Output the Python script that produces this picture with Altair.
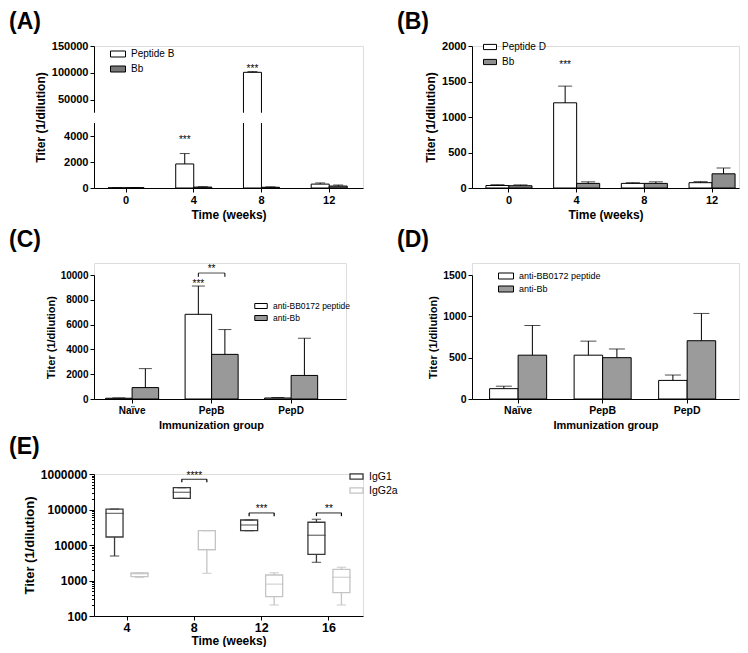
import altair as alt
import pandas as pd

FONT = "Liberation Sans"
RECT = "M-1,-0.4H1V0.4H-1Z"

# ---------------- Panel A ----------------
weeks_A = ["0", "4", "8", "12"]
series_A = ["Peptide B", "Bb"]
A_pep_mean = [15, 1850, 101000, 300]
A_pep_sd = [8, 800, 1400, 90]
A_bb_mean = [25, 70, 55, 150]
A_bb_sd = [12, 30, 35, 80]
A_star_week = ["4", "8"]
A_star_series = ["Peptide B", "Peptide B"]
A_star_y = [3900, 113000]
A_star_text = ["***", "***"]
A_break = [5000, 25800]
A_ticks = [0, 2000, 4000, 50000, 100000, 150000]

# ---------------- Panel B ----------------
weeks_B = ["0", "4", "8", "12"]
series_B = ["Peptide D", "Bb"]
B_pep_mean = [35, 1200, 65, 75]
B_pep_sd = [12, 235, 10, 15]
B_bb_mean = [32, 65, 65, 200]
B_bb_sd = [12, 22, 22, 80]
B_star_week = ["4"]
B_star_series = ["Peptide D"]
B_star_y = [1780]
B_star_text = ["***"]
B_ticks = [0, 500, 1000, 1500, 2000]

# ---------------- Panel C ----------------
groups_CD = ["Naïve", "PepB", "PepD"]
series_CD = ["anti-BB0172 peptide", "anti-Bb"]
C_pep_mean = [60, 6830, 80]
C_pep_sd = [30, 2280, 40]
C_bb_mean = [920, 3600, 1900]
C_bb_sd = [1530, 2000, 3000]
C_star_group = ["PepB"]
C_star_series = ["anti-BB0172 peptide"]
C_star_y = [9500]
C_star_text = ["***"]
C_br_group = ["PepB"]
C_br_y = [10160]
C_br_end = [9850]
C_br_text = ["**"]
C_br_text_y = [10750]
C_ticks = [0, 2000, 4000, 6000, 8000, 10000]

# ---------------- Panel D ----------------
D_pep_mean = [125, 530, 225]
D_pep_sd = [30, 170, 65]
D_bb_mean = [530, 500, 705]
D_bb_sd = [360, 105, 330]
D_ticks = [0, 500, 1000, 1500]

# ---------------- Panel E ----------------
weeks_E = ["4", "8", "12", "16"]
isotypes_E = ["IgG1", "IgG2a"]
E_igg1_min = [4900, 206000, 25300, 3240]
E_igg1_q1 = [16800, 206000, 25300, 5470]
E_igg1_med = [78000, 305000, 36600, 18800]
E_igg1_q3 = [103000, 411000, 50600, 43700]
E_igg1_max = [103000, 411000, 50600, 53000]
E_igg2a_min = [1220, 1590, 204, 204]
E_igg2a_q1 = [1280, 7380, 350, 453]
E_igg2a_med = [1550, 7380, 790, 1230]
E_igg2a_q3 = [1626, 25300, 1430, 2070]
E_igg2a_max = [1626, 25300, 1650, 2360]
E_sig_week = ["8", "12", "16"]
E_sig_y = [709000, 80000, 80000]
E_sig_end = [583000, 65000, 65000]
E_sig_text = ["****", "***", "**"]
E_sig_text_y = [1100000, 125000, 125000]
E_decades = [100, 1000, 10000, 100000, 1000000]


def axis_style(**kw):
    base = dict(labelFont=FONT, titleFont=FONT, labelFontWeight="bold",
                titleFontWeight="bold", labelColor="black", titleColor="black",
                tickColor="black", domainColor="black", domainWidth=1, tickWidth=1,
                tickSize=4, grid=False, labelPadding=2, titlePadding=4)
    base.update(kw)
    return alt.Axis(**base)


def panel_title(t, dx, offset):
    return alt.TitleParams(t, anchor="start", frame="group", dx=dx, offset=offset,
                           fontSize=23, fontWeight="bold", font=FONT, color="black",
                           baseline="bottom")


def star_mark():
    return dict(fontSize=10, dy=3, color="black", font=FONT, opacity=0.99)


def bar_layers(cats, series, pm, ps, bm, bs, fills, xscale, xaxis, yscale, yaxis, legend, cap):
    rows = []
    for i, c in enumerate(cats):
        rows.append(dict(cat=c, series=series[0], mean=pm[i], top=pm[i] + ps[i]))
        rows.append(dict(cat=c, series=series[1], mean=bm[i], top=bm[i] + bs[i]))
    df = pd.DataFrame(rows)
    X = alt.X("cat:N", scale=xscale, axis=xaxis)
    XO = alt.XOffset("series:N", scale=alt.Scale(domain=series, paddingInner=0, paddingOuter=0))
    bars = alt.Chart(df).mark_bar(stroke="black", strokeWidth=1).encode(
        x=X, xOffset=XO, y=alt.Y("mean:Q", scale=yscale, axis=yaxis),
        fill=alt.Fill("series:N", scale=alt.Scale(domain=series, range=fills), legend=legend))
    err = alt.Chart(df).mark_rule(color="black", strokeWidth=1).encode(
        x=X, xOffset=XO, y=alt.Y("mean:Q", scale=yscale, axis=yaxis), y2="top:Q")
    caps = alt.Chart(df).mark_tick(color="black", orient="horizontal", size=cap, thickness=1).encode(
        x=X, xOffset=XO, y=alt.Y("top:Q", scale=yscale, axis=yaxis))
    return [bars, err, caps], X, XO


def star_layer(cats, sers, ys, texts, X, XO, yscale, yaxis):
    df = pd.DataFrame({"cat": cats, "series": sers, "y": ys, "text": texts})
    return alt.Chart(df).mark_text(**star_mark()).encode(
        x=X, xOffset=XO, y=alt.Y("y:Q", scale=yscale, axis=yaxis), text="text:N")


def legend_def(x, y, size, fs, rowpad):
    return alt.Legend(title=None, orient="none", legendX=x, legendY=y, symbolType=RECT,
                      symbolSize=size, symbolStrokeColor="black", symbolStrokeWidth=1,
                      labelFont=FONT, labelFontSize=fs, labelColor="black",
                      rowPadding=rowpad, labelOffset=5)


# ---------- A ----------
WA, HA = 269, 142
xsA = alt.Scale(domain=weeks_A, paddingInner=0.468, paddingOuter=0.22, align=0.47)
xaA = axis_style(title="Time (weeks)", labelAngle=0, labelFontSize=11, titleFontSize=12)
ysA = alt.Scale(domain=[0, A_break[0], A_break[1], 150000], range=[HA, 77, 66.7, 0],
                nice=False, zero=False)
yaA = axis_style(values=A_ticks, format="d", title="Titer (1/dilution)", labelFontSize=11,
                 titleFontSize=12)
layA, XA, XOA = bar_layers(weeks_A, series_A, A_pep_mean, A_pep_sd, A_bb_mean, A_bb_sd,
                           ["white", "#777777"], xsA, xaA, ysA, yaA,
                           legend_def(16, 0, 225, 10, 2), 10)
maskA = alt.Chart(pd.DataFrame({"lo": [A_break[0]], "hi": [A_break[1]]})).mark_rect(
    color="white").encode(y=alt.Y("lo:Q", scale=ysA, axis=yaA), y2="hi:Q",
                          x=alt.value(-4), x2=alt.value(WA))
starA = star_layer(A_star_week, A_star_series, A_star_y, A_star_text, XA, XOA, ysA, yaA)
chartA = alt.layer(*layA, maskA, starA).properties(
    width=WA, height=HA, title=panel_title("(A)", -85, -17))

# ---------- B ----------
WB, HB = 267, 142
xsB = alt.Scale(domain=weeks_B, paddingInner=0.32, paddingOuter=0.132, align=0.78)
xaB = axis_style(title="Time (weeks)", labelAngle=0, labelFontSize=11, titleFontSize=12)
ysB = alt.Scale(domain=[0, 2000], nice=False)
yaB = axis_style(values=B_ticks, format="d", title="Titer (1/dilution)", labelFontSize=11,
                 titleFontSize=12)
layB, XB, XOB = bar_layers(weeks_B, series_B, B_pep_mean, B_pep_sd, B_bb_mean, B_bb_sd,
                           ["white", "#8e8e8e"], xsB, xaB, ysB, yaB,
                           legend_def(11, -6, 169, 10, 3), 14)
starB = star_layer(B_star_week, B_star_series, B_star_y, B_star_text, XB, XOB, ysB, yaB)
chartB = alt.layer(*layB, starB).properties(
    width=WB, height=HB, title=panel_title("(B)", -75, -17))

# ---------- C ----------
WC, HC = 252, 136
xsC = alt.Scale(domain=groups_CD, paddingInner=0.333, paddingOuter=0.251, align=0.29)
xaC = axis_style(title="Immunization group", labelAngle=0, labelFontSize=10, titleFontSize=11,
                 titleX=117)
ysC = alt.Scale(domain=[0, 10000], range=[HC, 12], nice=False)
yaC = axis_style(values=C_ticks, format="d", title="Titer (1/dilution)", labelFontSize=10,
                 titleFontSize=11)
layC, XC, XOC = bar_layers(groups_CD, series_CD, C_pep_mean, C_pep_sd, C_bb_mean, C_bb_sd,
                           ["white", "#999999"], xsC, xaC, ysC, yaC,
                           legend_def(160, 36, 156, 8.5, -2), 13)
starC = star_layer(C_star_group, C_star_series, C_star_y, C_star_text, XC, XOC, ysC, yaC)
brC_df = pd.DataFrame({"cat": C_br_group, "y": C_br_y, "text": C_br_text, "ty": C_br_text_y})
brC = alt.Chart(brC_df).mark_tick(color="black", orient="horizontal", size=26.5, thickness=1).encode(
    x=XC, y=alt.Y("y:Q", scale=ysC, axis=yaC))
brC_txt = alt.Chart(brC_df).mark_text(**star_mark()).encode(
    x=XC, y=alt.Y("ty:Q", scale=ysC, axis=yaC), text="text:N")
brC_ends_df = pd.DataFrame({"cat": C_br_group * 2, "series": series_CD,
                            "y": C_br_y * 2, "y2": C_br_end * 2})
brC_ends = alt.Chart(brC_ends_df).mark_rule(color="black", strokeWidth=1).encode(
    x=XC, xOffset=XOC, y=alt.Y("y:Q", scale=ysC, axis=yaC), y2="y2:Q")
chartC = alt.layer(*layC, starC, brC, brC_ends, brC_txt).properties(
    width=WC, height=HC, title=panel_title("(C)", -85, -12))

# ---------- D ----------
WD, HD = 267, 136
xsD = alt.Scale(domain=groups_CD, paddingInner=0.325, paddingOuter=0.242, align=0.43)
xaD = axis_style(title="Immunization group", labelAngle=0, labelFontSize=10.5, titleFontSize=11)
ysD = alt.Scale(domain=[0, 1500], range=[HD, 12], nice=False)
yaD = axis_style(values=D_ticks, format="d", title="Titer (1/dilution)", labelFontSize=10.5,
                 titleFontSize=11)
layD, XD, XOD = bar_layers(groups_CD, series_CD, D_pep_mean, D_pep_sd, D_bb_mean, D_bb_sd,
                           ["white", "#9b9b9b"], xsD, xaD, ysD, yaD,
                           legend_def(26, 5, 225, 9, 0), 16)
chartD = alt.layer(*layD).properties(width=WD, height=HD, title=panel_title("(D)", -75, -12))

# ---------- E ----------
WE, HE = 269, 142
rowsE = []
for i, w in enumerate(weeks_E):
    rowsE.append(dict(week=w, iso="IgG1", lo=E_igg1_min[i], q1=E_igg1_q1[i], med=E_igg1_med[i],
                      q3=E_igg1_q3[i], hi=E_igg1_max[i]))
    rowsE.append(dict(week=w, iso="IgG2a", lo=E_igg2a_min[i], q1=E_igg2a_q1[i], med=E_igg2a_med[i],
                      q3=E_igg2a_q3[i], hi=E_igg2a_max[i]))
dfE = pd.DataFrame(rowsE)
minorsE = [m * 10 ** k for k in range(2, 6) for m in range(2, 10)]
dec_test = "indexof([100,1000,10000,100000,1000000], datum.value) >= 0"
xsE = alt.Scale(domain=weeks_E, paddingInner=0.257, paddingOuter=0.127, align=0.47)
xaE = axis_style(title="Time (weeks)", labelAngle=0, labelFontSize=12.5, titleFontSize=12,
                 labelPadding=1, titlePadding=2)
ysE = alt.Scale(type="log", domain=[100, 1000000], nice=False)
yaE = axis_style(values=E_decades + minorsE, title="Titer (1/dilution)", labelFontSize=12,
                 titleFontSize=13, labelOverlap=False,
                 labelExpr=dec_test + " ? format(datum.value, 'd') : ''",
                 tickSize={"condition": {"test": dec_test, "value": 5}, "value": 2.5})
XE = alt.X("week:N", scale=xsE, axis=xaE)
XOE = alt.XOffset("iso:N", scale=alt.Scale(domain=isotypes_E, paddingInner=0.32, paddingOuter=0.16))
CE = alt.Color("iso:N", scale=alt.Scale(domain=isotypes_E, range=["#3a3a3a", "#c4c4c4"]),
               legend=alt.Legend(title=None, orient="none", legendX=255, legendY=-5,
                                 symbolType=RECT, symbolSize=169, symbolStrokeWidth=1.3,
                                 symbolFillColor="white", labelFont=FONT, labelFontSize=10.5,
                                 labelColor="black", rowPadding=1, labelOffset=5))
baseE = alt.Chart(dfE).encode(x=XE, xOffset=XOE, color=CE)
boxE = baseE.mark_bar(filled=False, strokeWidth=1.3).encode(
    y=alt.Y("q1:Q", scale=ysE, axis=yaE), y2="q3:Q")
wloE = baseE.mark_rule(strokeWidth=1.3).encode(y=alt.Y("lo:Q", scale=ysE, axis=yaE), y2="q1:Q")
whiE = baseE.mark_rule(strokeWidth=1.3).encode(y=alt.Y("q3:Q", scale=ysE, axis=yaE), y2="hi:Q")
medE = baseE.mark_tick(orient="horizontal", size=17, thickness=0.01, filled=False,
                       strokeWidth=1.3).encode(y=alt.Y("med:Q", scale=ysE, axis=yaE))
capLoE = baseE.mark_tick(orient="horizontal", size=8, thickness=0.01, filled=False,
                         strokeWidth=1.3).encode(y=alt.Y("lo:Q", scale=ysE, axis=yaE))
capHiE = baseE.mark_tick(orient="horizontal", size=8, thickness=0.01, filled=False,
                         strokeWidth=1.3).encode(y=alt.Y("hi:Q", scale=ysE, axis=yaE))
sigE_df = pd.DataFrame({"week": E_sig_week, "y": E_sig_y, "text": E_sig_text, "ty": E_sig_text_y})
sigE = alt.Chart(sigE_df).mark_tick(color="black", orient="horizontal", size=25.5, thickness=1.2).encode(
    x=XE, y=alt.Y("y:Q", scale=ysE, axis=yaE))
sigE_txt = alt.Chart(sigE_df).mark_text(**star_mark()).encode(
    x=XE, y=alt.Y("ty:Q", scale=ysE, axis=yaE), text="text:N")
ends_rows = []
for i, w in enumerate(E_sig_week):
    for iso in isotypes_E:
        ends_rows.append(dict(week=w, iso=iso, y=E_sig_y[i], y2=E_sig_end[i]))
sigE_ends = alt.Chart(pd.DataFrame(ends_rows)).mark_rule(color="black", strokeWidth=1.2).encode(
    x=XE, xOffset=XOE, y=alt.Y("y:Q", scale=ysE, axis=yaE), y2="y2:Q")
chartE = alt.layer(boxE, wloE, whiE, medE, capLoE, capHiE, sigE, sigE_ends, sigE_txt).properties(
    width=WE, height=HE, title=panel_title("(E)", -85, -14))

chart = alt.concat(
    chartA, chartB, chartC, chartD, chartE,
    columns=2, spacing={"row": 75, "column": 109}, bounds="flush", align="each",
).resolve_scale(
    fill="independent", color="independent", xOffset="independent"
).properties(padding={"left": 0, "top": 2, "right": 0, "bottom": 0},
             background="white").configure_view(strokeWidth=0).configure(font=FONT)

chart.save("out.html", embed_options={"renderer": "svg", "actions": False})
